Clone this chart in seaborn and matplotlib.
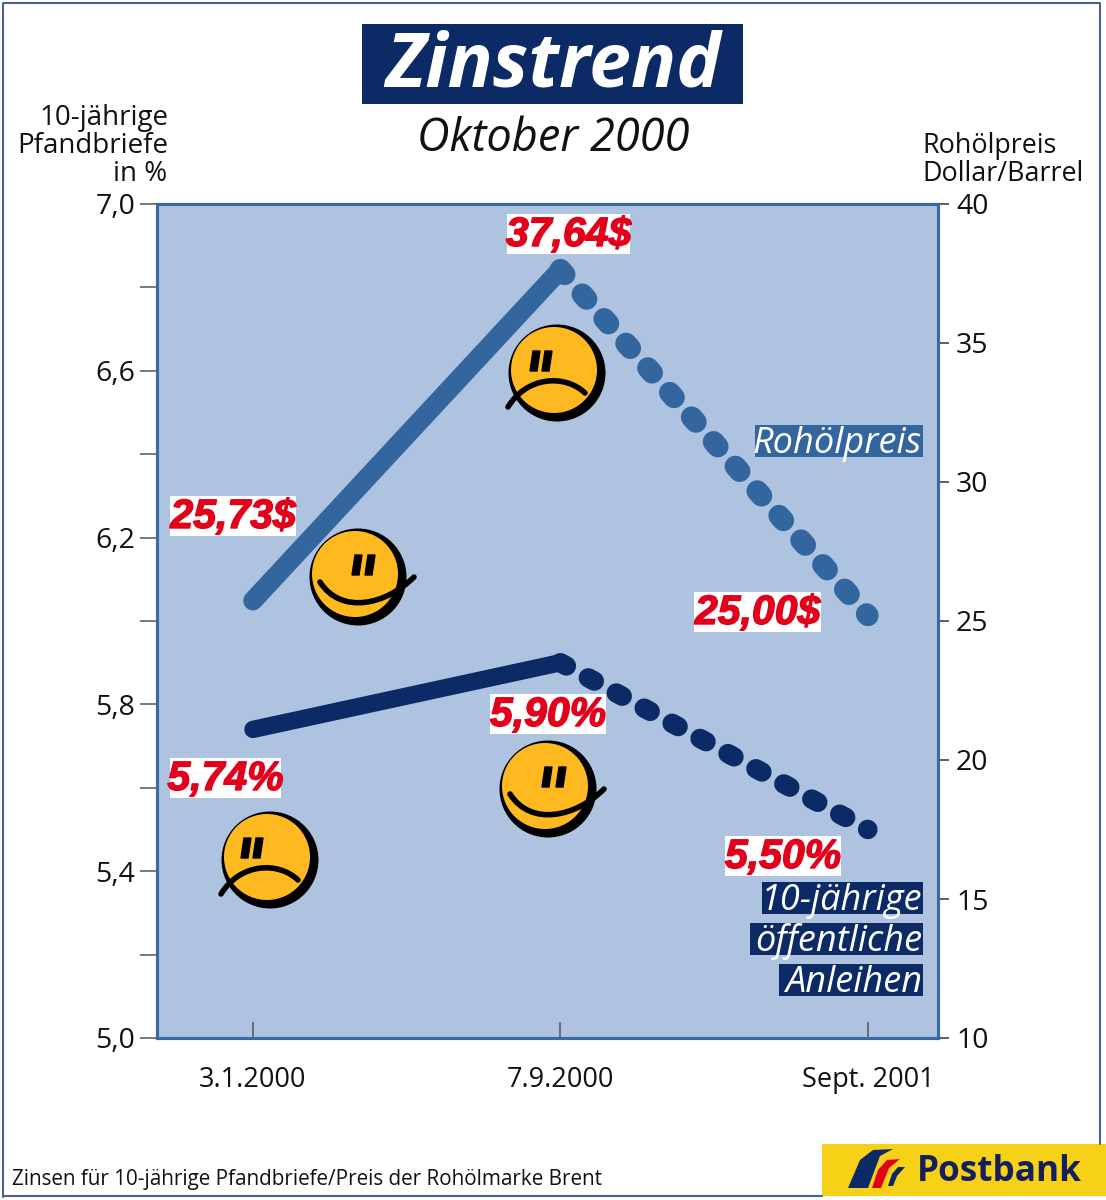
import numpy as np
import pandas as pd
import matplotlib
matplotlib.use('Agg')
import matplotlib.pyplot as plt
import matplotlib.patheffects as pe
from matplotlib.patches import Rectangle, Circle, PathPatch, Polygon
from matplotlib.path import Path
import seaborn as sns

# data
dates = ['3.1.2000', '7.9.2000', 'Sept. 2001']
pos = [0, 1, 2]
oil = [25.73, 37.64, 25.2]
bonds = [5.74, 5.90, 5.50]
oil_labels = ['25,73$', '37,64$', '25,00$']
bond_labels = ['5,74%', '5,90%', '5,50%']
left_major = [5.0, 5.4, 5.8, 6.2, 6.6, 7.0]
left_minor = [5.2, 5.6, 6.0, 6.4, 6.8]
right_major = [10, 15, 20, 25, 30, 35, 40]

NAVY = '#0b2a66'
BLUE = '#33659f'
BG = '#aec3e0'
RED = '#e2001a'
W, H = 1106, 1200

sns.set_theme(style='white')
plt.rcParams['font.family'] = ['Open Sans', 'DejaVu Sans']

df = pd.DataFrame({'pos': pos, 'oil': oil, 'bonds': bonds})

fig = plt.figure(figsize=(W / 100, H / 100), dpi=100, facecolor='white')
ax = fig.add_axes([157 / W, 1 - 1038 / H, (938 - 157) / W, (1038 - 204) / H])
ax.set_facecolor(BG)
ax2 = ax.twinx()

# bonds on the left axis
sns.lineplot(data=df.iloc[:2], x='pos', y='bonds', ax=ax, color=NAVY, lw=12.5,
             solid_capstyle='round', legend=False)
l = sns.lineplot(data=df.iloc[1:], x='pos', y='bonds', ax=ax, color=NAVY, lw=14,
                 legend=False).lines[-1]
l.set_dashes([0.35, 1.284])
l.set_dash_capstyle('round')

# oil on the right axis
sns.lineplot(data=df.iloc[:2], x='pos', y='oil', ax=ax2, color=BLUE, lw=14,
             solid_capstyle='round', legend=False)
l = sns.lineplot(data=df.iloc[1:], x='pos', y='oil', ax=ax2, color=BLUE, lw=15.5,
                 legend=False).lines[-1]
l.set_dashes([0.3, 1.229])
l.set_dash_capstyle('round')

ax.set_xlim(-0.312, 2.228)
ax.set_ylim(5, 7)
ax2.set_ylim(10, 40)
ax.set_xlabel('')
ax.set_ylabel('')
ax2.set_ylabel('')

ax.set_yticks(left_major)
ax.set_yticklabels([f'{v:.1f}'.replace('.', ',') for v in left_major], fontsize=20.5, color='#111111')
ax.set_yticks(left_minor, minor=True)
ax.tick_params(axis='y', which='both', left=True, length=12.5, width=1.1, color='#555555', pad=3)
ax.set_xticks(pos)
ax.set_xticklabels(dates, fontsize=19.5, color='#111111')
ax.tick_params(axis='x', bottom=True, direction='in', length=11.5, width=1.1, color='#555555', pad=20)
ax2.set_yticks(right_major)
ax2.set_yticklabels([str(v) for v in right_major], fontsize=20.5, color='#111111')
ax2.tick_params(axis='y', right=True, length=8, width=1.1, color='#333333', pad=5)
for a in (ax, ax2):
    for s in a.spines.values():
        s.set_color('#3a69a6')
        s.set_linewidth(2.2)

# overlay in pixel coordinates for the frame, boxes, faces and logo
ov = fig.add_axes([0, 0, 1, 1], zorder=10)
ov.set_xlim(0, W)
ov.set_ylim(H, 0)
ov.axis('off')
ov.patch.set_alpha(0)

ov.plot([3, 3, 1100, 1100], [1197, 3, 3, 1144], color='#4a5f9a', lw=1.5)
ov.plot([3, 822], [1196, 1196], color='#4a5f9a', lw=1.5)

ov.add_patch(Rectangle((362, 24), 381, 80, color=NAVY, lw=0))
ov.text(553, 67, 'Zinstrend', color='white', fontsize=54, weight='bold', style='italic',
        ha='center', va='center')
ov.text(553, 139, 'Oktober 2000', color='#111111', fontsize=32.5, style='italic', ha='center', va='center')

ov.text(168, 118, '10-jährige', fontsize=20, color='#111111', ha='right', va='center')
ov.text(168, 146, 'Pfandbriefe', fontsize=20, color='#111111', ha='right', va='center')
ov.text(167, 174, 'in %', fontsize=20, color='#111111', ha='right', va='center')
ov.text(922, 146, 'Rohölpreis', fontsize=19.4, color='#111111', ha='left', va='center')
ov.text(922, 174, 'Dollar/Barrel', fontsize=19.4, color='#111111', ha='left', va='center')
ov.text(12, 1180, 'Zinsen für 10-jährige Pfandbriefe/Preis der Rohölmarke Brent',
        fontsize=14.9, color='#111111', ha='left', va='center')


def red_label(x, y, s, w):
    ov.add_patch(Rectangle((x, y - 20), w, 40, color='white', lw=0))
    ov.text(x + w / 2, y + 1, s, color=RED, fontsize=29.5, weight='bold', style='italic',
            ha='center', va='center', family='Liberation Sans',
            path_effects=[pe.withStroke(linewidth=1.0, foreground=RED)])


red_label(170, 516, oil_labels[0], 126)
red_label(507, 234, oil_labels[1], 123)
red_label(694, 612, oil_labels[2], 127)
red_label(170, 778, bond_labels[0], 111)
red_label(490, 714, bond_labels[1], 116)
red_label(725, 856, bond_labels[2], 116)


def series_label(x0, y, s, color):
    ov.add_patch(Rectangle((x0, y - 16), 923 - x0, 32, color=color, lw=0))
    ov.text(922, y + 3, s, color='white', fontsize=26, style='italic', ha='right', va='center')


series_label(755, 441, 'Rohölpreis', BLUE)
series_label(762, 898, '10-jährige', NAVY)
series_label(750, 939, 'öffentliche', NAVY)
series_label(779, 980, 'Anleihen', NAVY)


def face(cx, cy, happy, eye_dx, r=46):
    # offset black disc gives the uneven brush outline
    ov.add_patch(Circle((cx + 2, cy + 2), r + 2.5, fc='black', lw=0))
    ov.add_patch(Circle((cx - 1, cy - 1), r - 3, fc='#fdb91f', lw=0))
    for dx in eye_dx:
        ov.add_patch(Polygon([(cx + dx - 2, cy - 20), (cx + dx + 5, cy - 20),
                              (cx + dx + 2, cy), (cx + dx - 5, cy)],
                             fc='black', ec='black', lw=1))
    if happy:
        verts = [(cx - 36, cy + 7), (cx - 15, cy + 40), (cx + 30, cy + 30), (cx + 58, cy + 2)]
    else:
        verts = [(cx - 47, cy + 36), (cx - 28, cy + 5), (cx + 10, cy + 3), (cx + 30, cy + 22)]
    ov.add_patch(PathPatch(Path(verts, [Path.MOVETO, Path.CURVE4, Path.CURVE4, Path.CURVE4]),
                           fc='none', ec='black', lw=4, capstyle='round'))


face(356, 575, True, (1, 14))
face(555, 371, False, (-20, -8))
face(268, 858, False, (-22, -10))
face(546, 787, True, (1, 15))

# Postbank logo
ov.add_patch(Rectangle((822, 1144), 284, 52, color='#f7d117', lw=0))
ov.add_patch(Polygon([(848, 1188), (860, 1160), (873, 1150), (893, 1149), (880, 1156), (868, 1188)],
                     fc=NAVY, lw=0))
ov.add_patch(Polygon([(872, 1188), (878, 1170), (887, 1160), (900, 1159), (889, 1168), (881, 1188)],
                     fc=RED, lw=0))
ov.add_patch(Polygon([(888, 1186), (892, 1174), (898, 1167), (905, 1167), (897, 1176), (893, 1186)],
                     fc=NAVY, lw=0))
ov.text(917, 1172, 'Postbank', color='#14205c', fontsize=25.3, weight='bold', ha='left', va='center')

fig.savefig('out.png', dpi=100)
